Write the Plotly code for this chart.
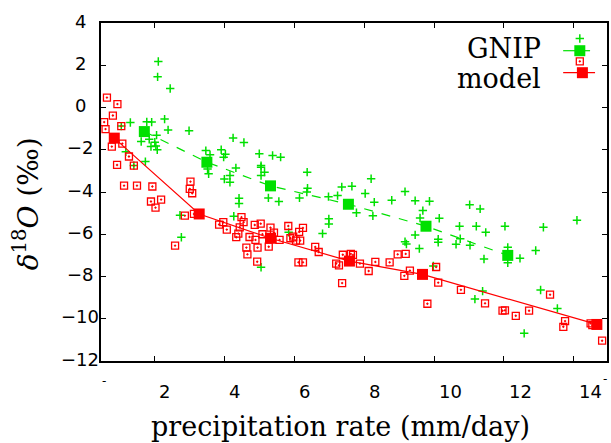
import plotly.graph_objects as go

# ---------------- data ----------------
gnip_x = [2.11, 2.09, 2.45, 1.31, 1.78, 1.92, 2.29, 2.39, 2.99, 2.06, 1.85, 1.62, 2.01, 2.04,
          1.90, 2.08, 1.18, 1.74, 1.41, 1.05, 3.47, 3.59, 3.91, 4.03, 3.98, 4.25, 4.56, 5.00,
          5.05, 5.15, 5.05, 4.33, 4.16, 4.00, 4.16, 3.55, 3.52, 5.38, 5.61, 6.37, 6.38, 6.36,
          7.36, 7.65, 8.20, 8.03, 9.17, 5.26, 5.56, 6.15, 6.98, 7.24, 8.29, 8.79, 9.46, 9.87,
          7.78, 8.25, 9.68, 9.60, 6.99, 6.99, 5.84, 6.81, 9.46, 9.17, 9.21, 9.58, 10.12, 10.12,
          9.98, 11.02, 11.32, 10.15, 10.73, 11.21, 11.48, 12.03, 13.13, 14.09, 10.63, 10.75,
          11.03, 11.43, 12.46, 12.91, 13.05, 13.53, 11.39, 11.17, 12.58, 4.42, 4.42, 4.27,
          2.73, 2.77, 5.05, 5.05, 12.11, 12.11]
gnip_y = [2.18, 1.45, 0.90, -0.71, -0.68, -0.69, -0.55, -1.06, -1.10, -1.31, -1.50, -1.61, -1.64, -1.82,
          -1.85, -2.00, -2.10, -2.56, -2.75, -0.88, -2.04, -2.24, -2.00, -2.21, -2.35, -1.44, -1.66, -2.19,
          -2.75, -3.06, -3.22, -2.86, -3.22, -3.39, -3.54, -3.14, -2.91, -2.27, -2.35, -3.06, -3.82, -4.00,
          -3.76, -3.73, -3.37, -4.07, -3.98, -4.28, -4.45, -4.28, -4.22, -4.17, -4.48, -4.39, -4.41, -4.44,
          -4.98, -5.13, -4.88, -5.23, -5.27, -5.51, -5.91, -5.97, -6.03, -6.35, -6.46, -6.68, -6.24, -6.38,
          -7.50, -4.60, -4.80, -5.24, -5.62, -5.62, -5.91, -5.62, -5.67, -5.34, -6.47, -6.21,
          -6.52, -7.17, -7.14, -6.77, -8.64, -9.51, -8.69, -9.07, -10.69, -4.29, -4.55, -5.15,
          -5.10, -6.14, -7.56, -2.83, -6.62, -7.35]

gnip_mean_x = [1.71, 3.50, 5.32, 7.55, 9.77, 12.11]
gnip_mean_y = [-1.14, -2.59, -3.71, -4.58, -5.62, -7.00]

model_x = [0.64, 0.94, 0.81, 0.56, 0.60, 1.05, 0.78, 1.08, 1.27, 0.93, 1.41, 1.13, 1.50, 1.94,
           3.03, 3.01, 3.08, 1.90, 2.03, 2.19, 2.87, 3.13, 2.59, 3.85, 3.97, 4.07, 4.49, 4.55,
           4.44, 4.40, 4.34, 4.72, 4.89, 4.87, 5.04, 5.09, 4.63, 4.66, 4.95, 4.94, 5.27, 5.32,
           5.42, 5.58, 5.83, 5.89, 5.97, 6.05, 6.17, 6.14, 6.25, 6.12, 6.25, 6.60, 6.70, 7.20,
           7.28, 7.39, 7.62, 7.68, 7.88, 8.13, 8.32, 7.37, 8.73, 8.96, 9.19, 9.31, 9.15, 9.81,
           10.06, 10.12, 10.77, 11.46, 11.96, 12.03, 12.34, 12.72, 13.32, 13.75, 13.70, 14.48,
           14.53, 14.81]
model_y = [0.47, 0.16, -0.38, -0.69, -1.02, -0.88, -1.85, -1.71, -2.32, -2.72, -2.75, -3.70, -3.70, -3.74,
           -3.51, -3.85, -4.06, -4.45, -4.74, -4.36, -5.12, -5.04, -6.54, -5.54, -5.43, -5.78, -5.19, -5.43,
           -5.67, -5.97, -6.14, -6.13, -6.27, -5.56, -5.50, -6.00, -6.63, -6.95, -6.63, -7.30, -6.59, -5.69,
           -5.92, -6.27, -5.61, -6.19, -6.11, -6.30, -6.30, -5.89, -5.70, -7.33, -7.33, -6.60, -6.84, -7.39,
           -7.47, -6.97, -6.93, -6.98, -7.39, -7.74, -7.31, -8.31, -7.33, -6.95, -6.93, -7.72, -7.97, -9.29,
           -7.55, -8.29, -8.63, -9.27, -9.62, -9.60, -9.86, -9.62, -8.86, -10.11, -10.38, -10.22,
           -10.30, -11.04]

model_mean_x = [0.85, 3.28, 5.32, 7.58, 9.67, 14.66]
model_mean_y = [-1.45, -5.04, -6.19, -7.27, -7.90, -10.27]

x_ticks = [2, 4, 6, 8, 10, 12, 14]
x_tick_text = ["2", "4", "6", "8", "10", "12", "14"]
y_ticks = [4, 2, 0, -2, -4, -6, -8, -10, -12]
y_tick_text = ["4", "2", "0", "\u22122", "\u22124", "\u22126", "\u22128", "\u221210", "\u221212"]

legend_labels = ["GNIP", "model"]
x_title = "precipitation rate (mm/day)"
y_title = "<i>\u03b4</i><sup>18</sup><i>O</i> (\u2030)"

# ---------------- styling ----------------
GREEN = "#00e000"
RED = "#ff0000"
W, H = 611, 443
L, R, T, B = 101, 609, 23, 361   # plot area in pixels
XR = [0.47, 14.95]
YR = [-12, 4]
SANS = "DejaVu Sans"
SERIF = "DejaVu Serif"


def px(xp):
    return (xp - L) / (R - L)


def py(yp):
    return (B - yp) / (B - T)


fig = go.Figure()

fig.add_trace(go.Scatter(
    x=gnip_x, y=gnip_y, mode="markers", showlegend=False,
    marker=dict(symbol="cross-thin", size=6, color=GREEN, line=dict(color=GREEN, width=1.5))))
fig.add_trace(go.Scatter(
    x=gnip_mean_x, y=gnip_mean_y, mode="lines+markers", showlegend=False,
    line=dict(color=GREEN, width=1.2, dash="9px,9px"),
    marker=dict(symbol="square", size=11, color=GREEN)))
fig.add_trace(go.Scatter(
    x=model_x, y=model_y, mode="markers", showlegend=False,
    marker=dict(symbol="square-open-dot", size=7, color=RED, line=dict(color=RED, width=1.3))))
fig.add_trace(go.Scatter(
    x=model_mean_x, y=model_mean_y, mode="lines+markers", showlegend=False,
    line=dict(color=RED, width=1.2),
    marker=dict(symbol="square", size=11, color=RED)))

# ---- hand-made key (gnuplot style: text left of symbols), on a pixel overlay axis ----
fig.add_trace(go.Scatter(x=[581.7], y=[38.5], xaxis="x2", yaxis="y2", mode="markers", showlegend=False,
                         marker=dict(symbol="cross-thin", size=6, color=GREEN, line=dict(color=GREEN, width=1.5))))
fig.add_trace(go.Scatter(x=[565, 592], y=[50.7, 50.7], xaxis="x2", yaxis="y2", mode="lines", showlegend=False,
                         line=dict(color=GREEN, width=1.2)))
fig.add_trace(go.Scatter(x=[581.7], y=[50.7], xaxis="x2", yaxis="y2", mode="markers", showlegend=False,
                         marker=dict(symbol="square", size=11, color=GREEN)))
fig.add_trace(go.Scatter(x=[581.7], y=[61.3], xaxis="x2", yaxis="y2", mode="markers", showlegend=False,
                         marker=dict(symbol="square-open-dot", size=7, color=RED, line=dict(color=RED, width=1.3))))
fig.add_trace(go.Scatter(x=[565, 597], y=[72.7, 72.7], xaxis="x2", yaxis="y2", mode="lines", showlegend=False,
                         line=dict(color=RED, width=1.2)))
fig.add_trace(go.Scatter(x=[584.3], y=[72.7], xaxis="x2", yaxis="y2", mode="markers", showlegend=False,
                         marker=dict(symbol="square", size=11, color=RED)))

annotations = []
# x tick labels (left-aligned just right of each tick, as in the reference)
for v, t in zip(x_ticks, x_tick_text):
    annotations.append(dict(x=v, xref="x", y=py(392), yref="paper", text=t, showarrow=False,
                            xanchor="left", yanchor="middle", xshift=3,
                            font=dict(family=SANS, size=18, color="black")))
# y tick labels (centered in a column left of the frame)
for v, t in zip(y_ticks, y_tick_text):
    annotations.append(dict(x=px(80), xref="paper", y=v, yref="y", text=t, showarrow=False,
                            xanchor="center", yanchor="middle", yshift=2,
                            font=dict(family=SANS, size=18, color="black")))
# stray dashes from the original rendering
annotations.append(dict(x=px(104), xref="paper", y=py(381), yref="paper", text="-", showarrow=False,
                        xanchor="center", yanchor="middle", font=dict(family=SANS, size=12, color="black")))
annotations.append(dict(x=px(607), xref="paper", y=py(379), yref="paper", text="-", showarrow=False,
                        xanchor="center", yanchor="middle", font=dict(family=SANS, size=12, color="black")))
# axis titles
annotations.append(dict(x=px(341), xref="paper", y=py(426), yref="paper", text=x_title, showarrow=False,
                        xanchor="center", yanchor="middle", font=dict(family=SERIF, size=27, color="black")))
annotations.append(dict(x=px(26), xref="paper", y=py(204), yref="paper", text=y_title, showarrow=False,
                        textangle=-90, xanchor="center", yanchor="middle",
                        font=dict(family=SERIF, size=28, color="black")))
# key texts
annotations.append(dict(x=px(545), xref="paper", y=py(48), yref="paper", text=legend_labels[0], showarrow=False,
                        xanchor="right", yanchor="middle", font=dict(family=SERIF, size=27, color="black")))
annotations.append(dict(x=px(545), xref="paper", y=py(79), yref="paper", text=legend_labels[1], showarrow=False,
                        xanchor="right", yanchor="middle", font=dict(family=SERIF, size=27, color="black")))

axis_common = dict(showline=True, linecolor="black", linewidth=1.5, mirror="ticks",
                   ticks="inside", ticklen=5, tickwidth=1, tickcolor="black",
                   showgrid=False, zeroline=False, showticklabels=False)

fig.update_layout(
    width=W, height=H,
    margin=dict(l=L, r=W - R, t=T, b=H - B, pad=0),
    paper_bgcolor="white", plot_bgcolor="white",
    showlegend=False,
    xaxis=dict(range=XR, tickvals=x_ticks, **axis_common),
    yaxis=dict(range=YR, tickvals=y_ticks, **axis_common),
    xaxis2=dict(range=[L, R], overlaying="x", visible=False, fixedrange=True),
    yaxis2=dict(range=[B, T], overlaying="y", visible=False, fixedrange=True),
    annotations=annotations,
)

fig.write_html("out.html")
